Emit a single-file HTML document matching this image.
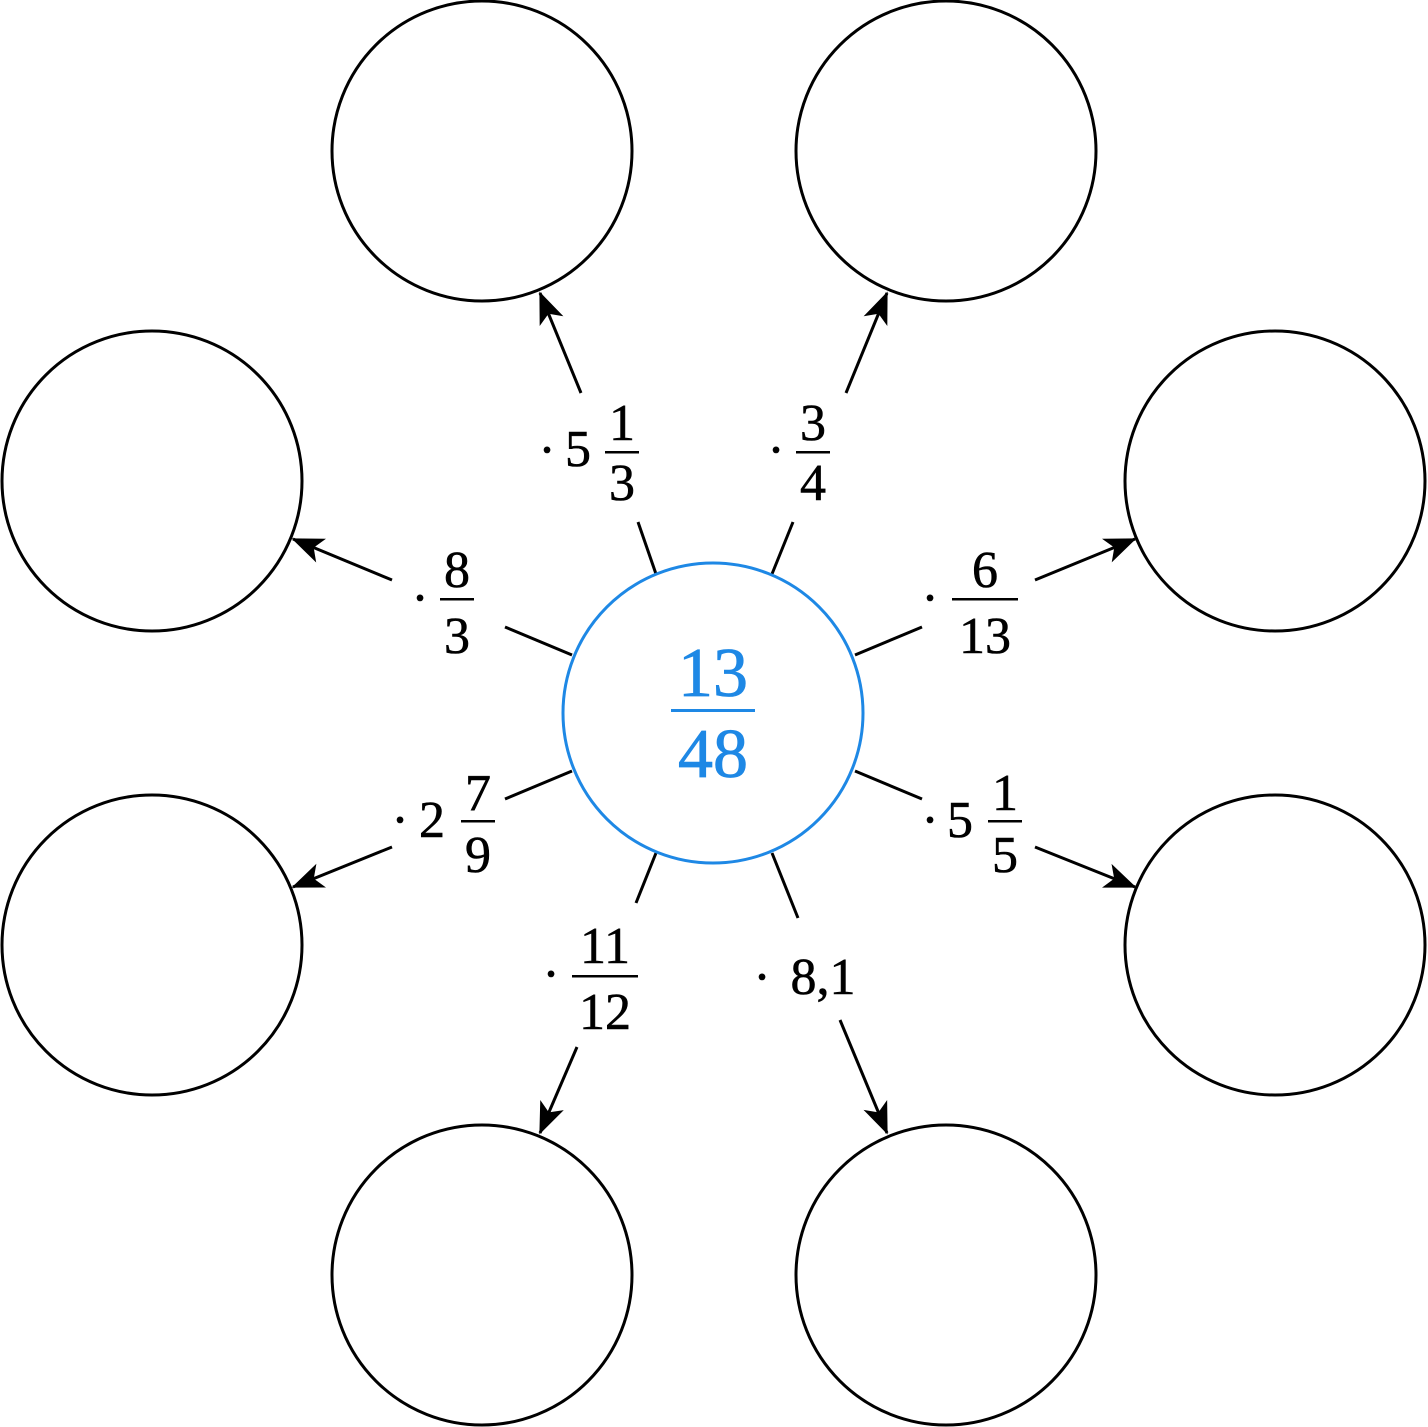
<!DOCTYPE html>
<html><head><meta charset="utf-8"><style>
html,body{margin:0;padding:0;background:#fff;}
svg{display:block;}
text{font-family:"Liberation Serif","DejaVu Serif",serif;fill:#000;}
</style></head><body>
<svg width="1428" height="1427" viewBox="0 0 1428 1427" xmlns="http://www.w3.org/2000/svg">
<defs>
<marker id="ah" viewBox="0 0 20 16" refX="19" refY="8" markerWidth="32" markerHeight="26" orient="auto" markerUnits="userSpaceOnUse">
<path d="M0,0 L20,8 L0,16 L5,8 Z" fill="#000"/>
</marker>
</defs>
<g fill="none" stroke="#000" stroke-width="3">
<circle cx="482" cy="151" r="150"/>
<circle cx="946" cy="151" r="150"/>
<circle cx="1275" cy="481" r="150"/>
<circle cx="1275" cy="945" r="150"/>
<circle cx="946" cy="1275" r="150"/>
<circle cx="482" cy="1275" r="150"/>
<circle cx="152" cy="945" r="150"/>
<circle cx="152" cy="481" r="150"/>
<line x1="656" y1="574" x2="638" y2="522"/>
<line x1="581" y1="393" x2="540" y2="293" marker-end="url(#ah)"/>
<line x1="772" y1="574" x2="793" y2="522"/>
<line x1="846" y1="393" x2="887" y2="293" marker-end="url(#ah)"/>
<line x1="572" y1="655" x2="505" y2="627"/>
<line x1="392" y1="580" x2="293" y2="539" marker-end="url(#ah)"/>
<line x1="855" y1="655" x2="922" y2="627"/>
<line x1="1035" y1="580" x2="1135" y2="539" marker-end="url(#ah)"/>
<line x1="572" y1="771" x2="505" y2="799"/>
<line x1="392" y1="847" x2="293" y2="887" marker-end="url(#ah)"/>
<line x1="855" y1="771" x2="922" y2="799"/>
<line x1="1035" y1="847" x2="1135" y2="887" marker-end="url(#ah)"/>
<line x1="656" y1="853" x2="636" y2="903"/>
<line x1="577" y1="1047" x2="540" y2="1133" marker-end="url(#ah)"/>
<line x1="772" y1="853" x2="798" y2="918"/>
<line x1="840" y1="1020" x2="887" y2="1133" marker-end="url(#ah)"/>
</g>
<circle cx="713" cy="713" r="150" fill="none" stroke="#1e88e5" stroke-width="3"/>
<g font-size="70" text-anchor="middle" stroke="#1e88e5" stroke-width="0.8">
<text x="713" y="696" style="fill:#1e88e5">13</text>
<text x="713" y="777" style="fill:#1e88e5">48</text>
</g>
<rect x="671" y="709" width="84" height="3" fill="#1e88e5"/>
<g font-size="52" text-anchor="middle" stroke="#000" stroke-width="0.6">
<text x="547" y="467">·</text><text x="578" y="466">5</text>
<text x="622" y="440">1</text><text x="622" y="500">3</text>
<text x="776" y="467">·</text>
<text x="813" y="440">3</text><text x="813" y="500">4</text>
<text x="420" y="615">·</text>
<text x="457" y="587">8</text><text x="457" y="653">3</text>
<text x="930" y="615">·</text>
<text x="985" y="587">6</text><text x="985" y="653">13</text>
<text x="400" y="837">·</text><text x="432" y="837">2</text>
<text x="478" y="810">7</text><text x="478" y="872">9</text>
<text x="930" y="837">·</text><text x="960" y="837">5</text>
<text x="1005" y="810">1</text><text x="1005" y="872">5</text>
<text x="551" y="991">·</text>
<text x="605" y="963">11</text><text x="605" y="1029">12</text>
<text x="762" y="994">·</text>
<text x="823" y="994">8,1</text>
</g>
<g fill="#000">
<rect x="605" y="451" width="34" height="2.5"/>
<rect x="796" y="451" width="34" height="2.5"/>
<rect x="440" y="598" width="34" height="2.5"/>
<rect x="952" y="598" width="66" height="2.5"/>
<rect x="461" y="820" width="34" height="2.5"/>
<rect x="988" y="820" width="34" height="2.5"/>
<rect x="572" y="975" width="66" height="2.5"/>
</g>
</svg>
</body></html>
